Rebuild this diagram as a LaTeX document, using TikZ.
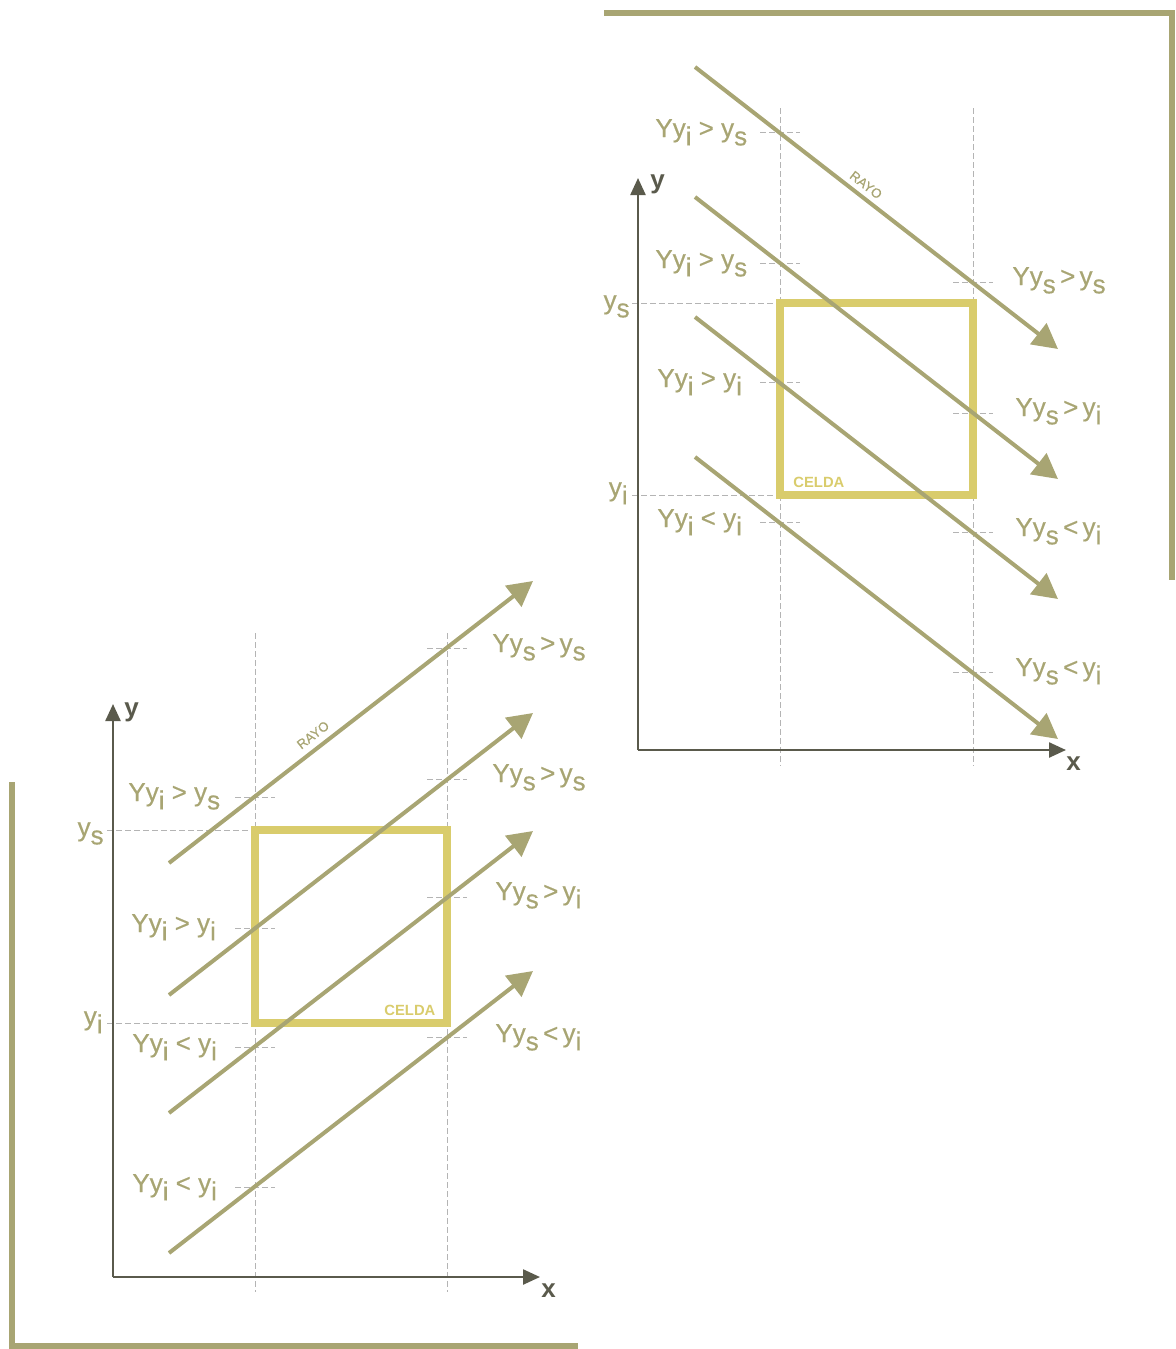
\documentclass[tikz,border=0pt]{standalone}
\usepackage{fontspec}
\setmainfont{Liberation Sans}
\newfontfamily\lblfont[FakeBold=0.5]{Liberation Sans}
\usetikzlibrary{arrows.meta}
\definecolor{raycol}{RGB}{168,165,115}
\definecolor{cellcol}{RGB}{217,204,108}
\definecolor{axiscol}{RGB}{90,90,76}
\definecolor{guidecol}{RGB}{180,180,180}
\newcommand\lsub[1]{\raisebox{-0.32em}{#1}}
\begin{document}
\begin{tikzpicture}[x=0.5pt,y=-0.5pt,
  rayline/.style={draw=raycol, line width=2pt, -{Triangle[length=12.5pt,width=13pt]}},
  axisline/.style={draw=axiscol, line width=1.2pt, -{Triangle[length=8.5pt,width=7.5pt]}},
  guide/.style={draw=guidecol, line width=0.5pt, dash pattern=on 3pt off 1.5pt},
  cellbox/.style={draw=cellcol, line width=4pt},
  frameline/.style={draw=raycol, line width=3pt, line join=miter},
  lbl/.style={text=raycol, font=\lblfont\fontsize{13}{15}\selectfont, inner sep=0pt, anchor=base west},
  lble/.style={text=raycol, font=\lblfont\fontsize{13}{15}\selectfont, inner sep=0pt, anchor=base east},
  axlbl/.style={text=axiscol, font=\bfseries\fontsize{13}{15}\selectfont, inner sep=0pt, anchor=base west},
  celdalbl/.style={text=cellcol, font=\bfseries\fontsize{7.4}{8}\selectfont, inner sep=0pt, anchor=base west},
  rayolbl/.style={text=raycol, font=\lblfont\fontsize{6.6}{7}\selectfont, inner sep=0pt}
]
\useasboundingbox (0,0) rectangle (1175,1349);

% ================= TOP-RIGHT DIAGRAM =================
\draw[frameline] (604,13) -- (1171.5,13) -- (1171.5,580);
% guides
\draw[guide] (780,108) -- (780,766);
\draw[guide] (973,108) -- (973,766);
\draw[guide] (632,303) -- (780,303);
\draw[guide] (632,495) -- (780,495);
\foreach \yy in {132,263,382,522} {\draw[guide] (760,\yy) -- (800,\yy);}
\foreach \yy in {282,413,532,672} {\draw[guide] (953,\yy) -- (993,\yy);}
% cell
\draw[cellbox] (780,303) rectangle (973,495);
\node[celdalbl] (celdaA) at (793,487) {CELDA};
% rays
\coordinate (a1s) at (695,67);  \coordinate (a1e) at (1058,349);
\coordinate (a2s) at (695,197); \coordinate (a2e) at (1058,479);
\coordinate (a3s) at (695,317); \coordinate (a3e) at (1058,599);
\coordinate (a4s) at (695,457); \coordinate (a4e) at (1058,739);
\draw[rayline] (a1s) -- (a1e);
\draw[rayline] (a2s) -- (a2e);
\draw[rayline] (a3s) -- (a3e);
\draw[rayline] (a4s) -- (a4e);
\node[rayolbl, rotate=-37.7] (rayoA) at (866,185) {RAYO};
% axes
\coordinate (oA) at (638,750);
\coordinate (yA) at (638,178);
\coordinate (xA) at (1066,750);
\draw[axisline] (oA) -- (yA);
\draw[axisline] (oA) -- (xA);
\node[axlbl] (ylabA) at (650,188) {y};
\node[axlbl] (xlabA) at (1066,770) {x};
\node[lble] (ysA) at (630,309) {y\lsub{s}};
\node[lble] (yiA) at (628,496) {y\lsub{i}};
% left labels
\node[lbl] (lA1) at (655,137) {Yy\lsub{i} > y\lsub{s}};
\node[lbl] (lA2) at (655,268) {Yy\lsub{i} > y\lsub{s}};
\node[lbl] (lA3) at (657,387) {Yy\lsub{i} > y\lsub{i}};
\node[lbl] (lA4) at (657,527) {Yy\lsub{i} < y\lsub{i}};
% right labels
\node[lbl] (rA1) at (1012,285) {Yy\lsub{s}\,>\,y\lsub{s}};
\node[lbl] (rA2) at (1015,416) {Yy\lsub{s}\,>\,y\lsub{i}};
\node[lbl] (rA3) at (1015,536) {Yy\lsub{s}\,<\,y\lsub{i}};
\node[lbl] (rA4) at (1015,676) {Yy\lsub{s}\,<\,y\lsub{i}};

% ================= BOTTOM-LEFT DIAGRAM =================
\draw[frameline] (12,782) -- (12,1346) -- (578,1346);
% guides
\draw[guide] (255,633) -- (255,1292);
\draw[guide] (447,633) -- (447,1292);
\draw[guide] (107,830) -- (255,830);
\draw[guide] (107,1023) -- (255,1023);
\foreach \yy in {797,928,1047,1187} {\draw[guide] (235,\yy) -- (275,\yy);}
\foreach \yy in {648,779,897,1037} {\draw[guide] (427,\yy) -- (467,\yy);}
% cell
\draw[cellbox] (255,830) rectangle (447,1023);
\node[celdalbl] (celdaB) at (384,1015) {CELDA};
% rays
\coordinate (b1s) at (169,863);  \coordinate (b1e) at (533,581);
\coordinate (b2s) at (169,995);  \coordinate (b2e) at (533,713);
\coordinate (b3s) at (169,1113); \coordinate (b3e) at (533,831);
\coordinate (b4s) at (169,1253); \coordinate (b4e) at (533,971);
\draw[rayline] (b1s) -- (b1e);
\draw[rayline] (b2s) -- (b2e);
\draw[rayline] (b3s) -- (b3e);
\draw[rayline] (b4s) -- (b4e);
\node[rayolbl, rotate=37.7] (rayoB) at (313,735) {RAYO};
% axes
\coordinate (oB) at (113,1277);
\coordinate (yB) at (113,704);
\coordinate (xB) at (540,1277);
\draw[axisline] (oB) -- (yB);
\draw[axisline] (oB) -- (xB);
\node[axlbl] (ylabB) at (124,716) {y};
\node[axlbl] (xlabB) at (541,1297) {x};
\node[lble] (ysB) at (104,836) {y\lsub{s}};
\node[lble] (yiB) at (103,1025) {y\lsub{i}};
% left labels
\node[lbl] (lB1) at (128,801) {Yy\lsub{i} > y\lsub{s}};
\node[lbl] (lB2) at (131,932) {Yy\lsub{i} > y\lsub{i}};
\node[lbl] (lB3) at (132,1052) {Yy\lsub{i} < y\lsub{i}};
\node[lbl] (lB4) at (132,1192) {Yy\lsub{i} < y\lsub{i}};
% right labels
\node[lbl] (rB1) at (492,652) {Yy\lsub{s}\,>\,y\lsub{s}};
\node[lbl] (rB2) at (492,782) {Yy\lsub{s}\,>\,y\lsub{s}};
\node[lbl] (rB3) at (495,900) {Yy\lsub{s}\,>\,y\lsub{i}};
\node[lbl] (rB4) at (495,1042) {Yy\lsub{s}\,<\,y\lsub{i}};
\end{tikzpicture}
\end{document}
